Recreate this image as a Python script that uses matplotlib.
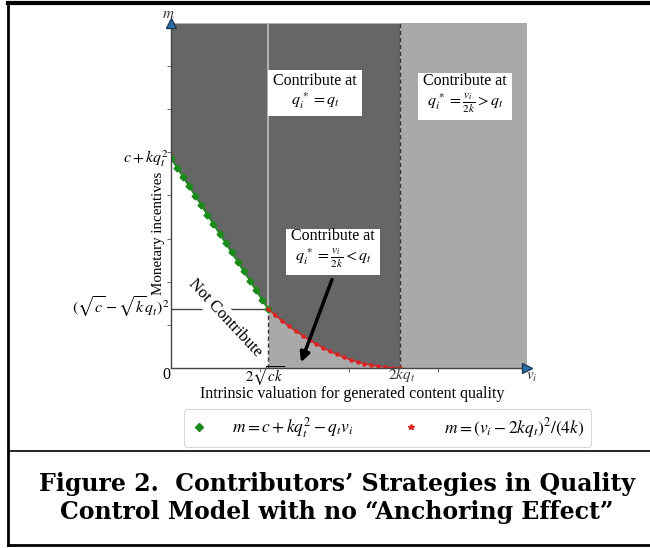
import matplotlib
matplotlib.use("Agg")
import matplotlib.pyplot as plt
from matplotlib.lines import Line2D

plt.rcParams['font.family'] = ['Liberation Serif', 'DejaVu Serif']
plt.rcParams['mathtext.fontset'] = 'stix'

# ---- data (k = 1, q_t = 1 units) ----
v_low = 0.849      # 2*sqrt(ck)
v_high = 2.0       # 2*k*q_t
m_low = 0.331      # (sqrt(c) - sqrt(k) q_t)^2
m_high = 1.18      # c + k q_t^2
x_max = 3.11
y_max = 1.94

green_v = [0.000, 0.053, 0.106, 0.159, 0.212, 0.265, 0.318, 0.371, 0.424,
           0.477, 0.530, 0.583, 0.636, 0.689, 0.742, 0.795, 0.849]
green_m = [1.180, 1.127, 1.074, 1.021, 0.968, 0.915, 0.862, 0.809, 0.756,
           0.703, 0.650, 0.597, 0.544, 0.491, 0.438, 0.385, 0.331]
red_v = [0.849, 0.91, 0.97, 1.03, 1.09, 1.15, 1.21, 1.27, 1.33, 1.39,
         1.45, 1.51, 1.57, 1.63, 1.69, 1.75, 1.81, 1.87, 1.93, 2.00]
red_m = [0.331, 0.297, 0.265, 0.235, 0.207, 0.181, 0.156, 0.133, 0.112, 0.093,
         0.076, 0.060, 0.046, 0.034, 0.024, 0.016, 0.009, 0.004, 0.001, 0.000]

legend_labels = [r'$m=c+kq_t^2-q_tv_i$', r'$m=(v_i-2kq_t)^2/(4k)$']

DARK = '#666666'
LIGHT = '#a9a9a9'

fig = plt.figure(figsize=(6.5, 5.48), dpi=100)
ax = fig.add_axes([171/650, 1-368/548, 356/650, 345/548])
ax.set_xlim(0, x_max)
ax.set_ylim(0, y_max)

curve_v = green_v + red_v[1:]
curve_m = green_m + red_m[1:]
ax.fill_between(curve_v, curve_m, y_max, color=DARK, lw=0, zorder=1)
ax.fill_between(red_v, 0, red_m, color=LIGHT, lw=0, zorder=1)
ax.axvspan(v_high, x_max, color=LIGHT, lw=0, zorder=1)

# guide lines
ax.plot([v_low, v_low], [m_low, y_max], color='#b0b0b0', lw=1.5, zorder=2)
ax.plot([v_low, v_low], [0, m_low], color='#333333', lw=1, ls=(0, (3, 2)), zorder=2)
ax.plot([v_high, v_high], [0, y_max], color='#333333', lw=1, ls=(0, (3, 2)), zorder=2)
ax.plot([0, v_low], [m_low, m_low], color='#444444', lw=1, zorder=2)

# curves
ax.plot(green_v, green_m, color='#1a8a1a', lw=1.3, marker='D', ms=3.5, zorder=4)
ax.plot(red_v, red_m, color='#e02020', lw=1.0, marker='o', ms=2.2, zorder=4)

# axes styling
for s in ['top', 'right']:
    ax.spines[s].set_visible(False)
for s in ['left', 'bottom']:
    ax.spines[s].set_color('#444444')
    ax.spines[s].set_linewidth(1)
    ax.spines[s].set_zorder(5)
ax.set_xticks([])
ax.set_yticks([])
ax.set_xticks([x_max * i / 4 for i in range(1, 4)], minor=True)
ax.set_yticks([y_max * i / 8 for i in range(1, 8)], minor=True)
ax.tick_params(which='minor', length=3, color='#555555', labelbottom=False, labelleft=False)

ax.plot([0], [y_max], marker='^', ms=7, color='#2f6fa8', mec='#1a3a5a', clip_on=False, zorder=6)
ax.plot([x_max], [0], marker='>', ms=7, color='#2f6fa8', mec='#1a3a5a', clip_on=False, zorder=6)

# tick-like labels
ax.text(-0.008, 1.026, r'$m$', transform=ax.transAxes, ha='center', va='center', fontsize=11, color='#333333')
ax.text(1.014, -0.026, r'$v_i$', transform=ax.transAxes, ha='center', va='center', fontsize=11, color='#333333')
ax.text(-0.001, -0.02, '0', transform=ax.transAxes, ha='right', va='center', fontsize=11.5)
ax.text(0.821, -0.047, r'$2\sqrt{ck}$', ha='center', va='center', fontsize=10.5)
ax.text(2.017, -0.039, r'$2kq_t$', ha='center', va='center', fontsize=11, color='#333333')
ax.text(-0.02, m_high, r'$c+kq_t^2$', ha='right', va='center', fontsize=11.5)
ax.text(-0.01, m_low + 0.01, r'$(\sqrt{c}-\sqrt{k}q_t)^2$', ha='right', va='center', fontsize=11.5)

ax.text(-0.0365, 0.39, 'Monetary incentives', transform=ax.transAxes, rotation=90,
        ha='center', va='center', fontsize=10.8)
fig.text(352/650, 1-394/548, 'Intrinsic valuation for generated content quality',
         ha='center', va='center', fontsize=11.5)

box = dict(boxstyle='square,pad=0.3', fc='white', ec='none')
ax.text(1.258, 1.552, 'Contribute at\n' + r'$q_i^{\,*}=q_t$', ha='center', va='center',
        fontsize=11.5, bbox=box, zorder=7, linespacing=1.15)
ax.text(2.568, 1.541, 'Contribute at\n' + r'$q_i^{\,*}=\frac{v_i}{2k}>q_t$', ha='center', va='center',
        fontsize=11.5, bbox=box, zorder=7, linespacing=1.15)
ax.text(1.415, 0.669, 'Contribute at\n' + r'$q_i^{\,*}=\frac{v_i}{2k}<q_t$', ha='center', va='center',
        fontsize=11.5, bbox=box, zorder=7, linespacing=1.15)
ax.text(0.472, 0.281, 'Not Contribute', rotation=-47, ha='center', va='center', fontsize=12,
        bbox=dict(boxstyle='square,pad=0.15', fc='white', ec='none'), zorder=7, rotation_mode='anchor')

ax.annotate('', xy=(1.127, 0.017), xytext=(1.415, 0.512),
            arrowprops=dict(arrowstyle='-|>', lw=2.5, color='black', mutation_scale=14), zorder=8)

handles = [Line2D([], [], ls='none', marker='D', ms=4, color='#1a8a1a'),
           Line2D([], [], ls='none', marker='*', ms=4, color='#e02020')]
leg = fig.legend(handles, legend_labels, loc='center', bbox_to_anchor=(387.5/650, 1-428/548),
                 ncol=2, fontsize=12.5, frameon=True, fancybox=True, edgecolor='#d0d0d0',
                 handlelength=1.0, handletextpad=1.4, columnspacing=2.8, borderpad=0.4)
leg.get_frame().set_linewidth(0.8)

# figure borders
fig.add_artist(Line2D([8/650, 1], [1-3/548, 1-3/548], color='black', lw=3, transform=fig.transFigure))
fig.add_artist(Line2D([8/650, 8/650], [1-3/548, 1-545/548], color='black', lw=2, transform=fig.transFigure))
fig.add_artist(Line2D([8/650, 1], [1-545/548, 1-545/548], color='black', lw=2, transform=fig.transFigure))
fig.add_artist(Line2D([8/650, 1], [1-451/548, 1-451/548], color='black', lw=1.2, transform=fig.transFigure))

fig.text(337/650, 1-498/548, 'Figure 2.  Contributors\u2019 Strategies in Quality\nControl Model with no \u201cAnchoring Effect\u201d',
         ha='center', va='center', fontsize=17, fontweight='bold', family=['DejaVu Serif'], linespacing=1.2)

fig.savefig('out.png', dpi=100)
